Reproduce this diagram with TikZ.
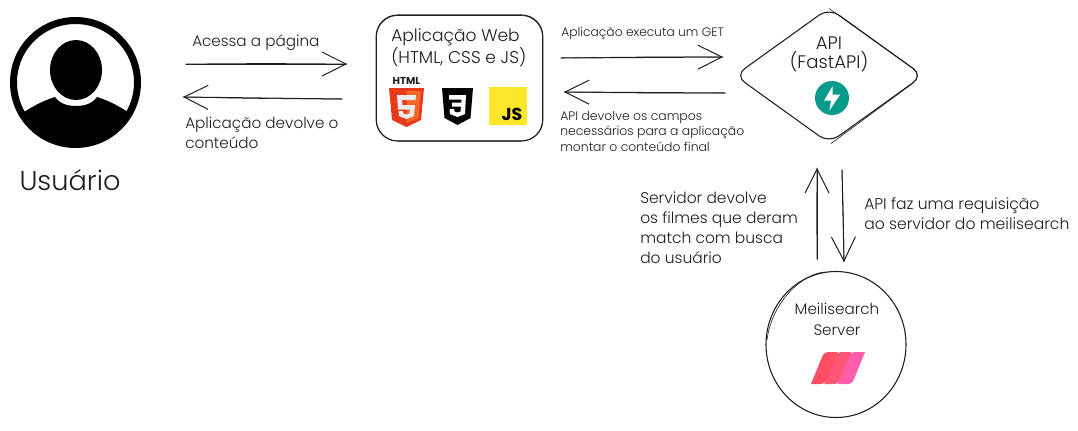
\documentclass[tikz,border=0pt]{standalone}
\usepackage{fontspec}
\setmainfont{Poppins}[UprightFont=* Light,BoldFont=* Bold]
\usetikzlibrary{arrows.meta,shapes.geometric}
\definecolor{inkc}{HTML}{1E1E1E}
\definecolor{tealc}{HTML}{059A8C}
\definecolor{mred}{HTML}{FF4E62}
\definecolor{mmid}{HTML}{FF5577}
\definecolor{mpink}{HTML}{FF5CAA}
\definecolor{jsy}{HTML}{FBE62A}
\definecolor{hred}{HTML}{E8391A}
\definecolor{hor}{HTML}{F4652A}
\newcommand{\fz}[2]{\fontsize{#1pt}{#2pt}\selectfont}
\tikzset{
  x=0.75pt,y=-0.75pt,
  inkline/.style={draw=inkc,line width=0.75pt,line cap=round,line join=round},
  flow/.style={inkline,-{Straight Barb[length=18pt,width=18pt,line width=0.75pt]}},
  echo/.style={draw=inkc,line width=0.45pt,line cap=round},
  lbl/.style={text=inkc,inner sep=0pt,anchor=west,align=left},
  ctr/.style={text=inkc,inner sep=0pt,anchor=center,align=center},
}
\begin{document}
\begin{tikzpicture}
\useasboundingbox (0,0) rectangle (1078,430);
\fill[white] (0,0) rectangle (1078,430);

% user icon
\node[circle,draw=black,line width=5.25pt,minimum size=93pt,inner sep=0pt] (user) at (75.5,82.5) {};
\begin{scope}
  \clip (75.5,82.5) circle[radius=62];
  \fill[black] (24,112) .. controls (35,105) and (45,100) .. (55,97) .. controls (60,104) and (68,106) .. (76,106) .. controls (84,106) and (92,104) .. (97,97) .. controls (107,100) and (117,105) .. (128,112) -- (128,150) -- (24,150) -- cycle;
\end{scope}
\node[ellipse,fill=black,minimum width=39pt,minimum height=45pt,inner sep=0pt] (head) at (76,70) {};
\node[ctr,font=\fz{20.4}{24}] (userlabel) at (70,180) {Usuário};

% web box
\node[draw=inkc,line width=0.8pt,rounded corners=16pt,minimum width=125pt,minimum height=94.5pt,inner sep=0pt] (web) at (459.5,78) {};
\draw[echo,rounded corners=16pt] (376.5,15.5) rectangle (542.5,141);
\node[lbl,font=\fz{12.8}{14.4}] (webtext) at (391,48) {Aplicação Web\\(HTML, CSS e JS)};

% html5
\node[ctr,font=\fontsize{7.6pt}{8pt}\bfseries] (htmltext) at (406.5,81) {HTML};
\fill[fill=hred] (389,88) -- (424,88) -- (421,120) -- (406.5,127) -- (392,120) -- cycle;
\fill[fill=hor] (406.5,91) -- (421,91) -- (418.5,118) -- (406.5,123) -- cycle;
\fill[fill=white!92!black] (397,95) -- (416,95) -- (415.5,100) -- (402,100) -- (402.5,105) -- (415,105) -- (414,116) -- (406.5,119) -- (399,116) -- (398.5,111) -- (403,111) -- (403.5,113.5) -- (406.5,114.5) -- (409.5,113.5) -- (410,109.5) -- (398,109.5) -- cycle;

% css3
\fill[black] (442,88) -- (473,88) -- (470.5,118) -- (457.5,125) -- (444.5,118) -- cycle;
\fill[white] (449,95) -- (466,95) -- (465,114) -- (457.5,117) -- (450,114) -- (449.5,109) -- (454,109) -- (454.5,111.5) -- (457.5,112.5) -- (460.5,111.5) -- (461,106.5) -- (452,106.5) -- (452,102.5) -- (461.3,102.5) -- (461.5,99.5) -- (449.2,99.5) -- cycle;

% js
\node[rectangle,fill=jsy,minimum size=28.5pt,inner sep=0pt] (js) at (508,106) {};
\node[ctr,font=\fontsize{13pt}{13pt}\bfseries,text=black] (jstext) at (512,114) {JS};

% api diamond
\draw[inkline,line width=0.8pt,rounded corners=9pt] (829,8) -- (923,75.5) -- (829,143) -- (735,75.5) -- cycle;
\draw[echo,rounded corners=9pt] (829,8.5) -- (923,75.8) -- (831,143.5);
\coordinate (api) at (829,75);
\node[ctr,font=\fz{13.6}{14.4}] (apitext) at (829,54) {API\\(FastAPI)};
\node[circle,fill=tealc,minimum size=25.5pt,inner sep=0pt] (fast) at (832,98) {};
\fill[white] (832.7,86) -- (824,100.7) -- (831,100.7) -- (829.3,110.7) -- (840,94.7) -- (832.7,94.7) -- cycle;

% meilisearch
\node[ellipse,draw=inkc,line width=0.8pt,minimum width=105pt,minimum height=109.5pt,inner sep=0pt] (meili) at (836,344.5) {};
\draw[echo] (767,340) .. controls (772,300) and (805,272) .. (826,272);
\node[ctr,font=\fz{11.4}{15.7}] (meilitext) at (837,319.5) {Meilisearch\\Server};
\foreach \dx/\col in {0/mred,13.5/mmid,27/mpink}{
  \fill[fill=\col,xshift=\dx*0.75pt]
   (811,384) -- (822,357) .. controls (823.5,353.5) and (825.5,352) .. (829,352) -- (838,352) -- (827,379) .. controls (825.5,382.5) and (823.5,384) .. (820,384) -- cycle;
}

% connector ends
\coordinate (a1s) at (186,64); \coordinate (a1e) at (347,64);
\coordinate (a2s) at (342,99); \coordinate (a2e) at (183,97);
\coordinate (a3s) at (561,58); \coordinate (a3e) at (723,57);
\coordinate (a4s) at (725,93); \coordinate (a4e) at (564,92);
\coordinate (a5s) at (817,259); \coordinate (a5e) at (817,168);
\coordinate (a6s) at (842,170); \coordinate (a6e) at (844,262);

\foreach \s/\e in {a1s/a1e,a2s/a2e,a3s/a3e,a4s/a4e,a5s/a5e,a6s/a6e}{
  \draw[flow] (\s) -- (\e);
  \draw[echo] (\s) to[bend left=0.6] (\e);
}

% labels
\node[lbl,font=\fz{11.4}{14}] (l1) at (192,43) {Acessa a página};
\node[lbl,font=\fz{11.4}{15}] (l2) at (185,133) {Aplicação devolve o\\conteúdo};
\node[lbl,font=\fz{9.2}{11}] (l3) at (561,33) {Aplicação executa um GET};
\node[lbl,font=\fz{9.3}{11.6}] (l4) at (560,131) {API devolve os campos\\necessários para a aplicação\\montar o conteúdo final};
\node[lbl,font=\fz{11.6}{15}] (l5) at (640,227.5) {Servidor devolve\\os filmes que deram\\match com busca\\do usuário};
\node[lbl,font=\fz{11.7}{15}] (l6) at (864,214) {API faz uma requisição\\ao servidor do meilisearch};
\end{tikzpicture}
\end{document}
